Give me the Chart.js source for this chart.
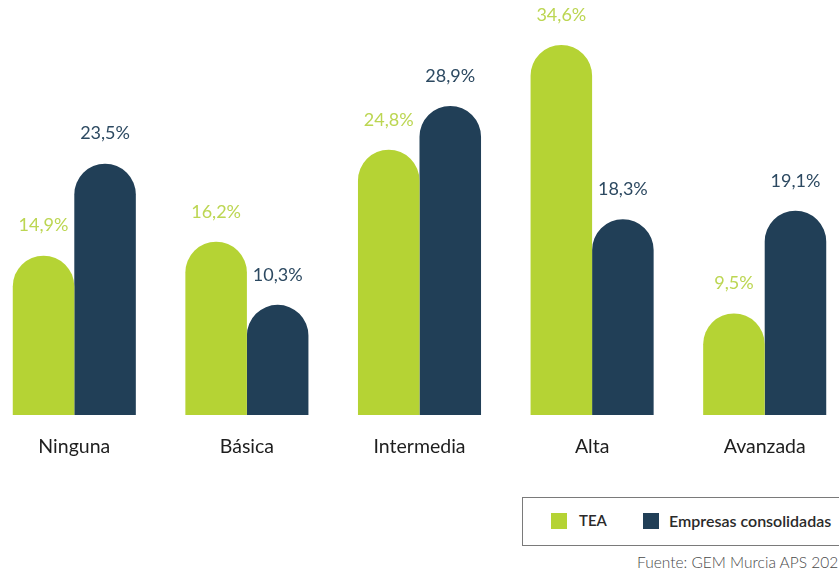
<!DOCTYPE html>
<html><head><meta charset="utf-8">
<script src="https://cdn.jsdelivr.net/npm/chart.js@4.4.1/dist/chart.umd.min.js"></script>
<style>
html,body{margin:0;padding:0;width:839px;height:571px;overflow:hidden;background:#fff;font-family:Lato,sans-serif;position:relative}
#wrap{position:absolute;left:-12px;top:0;width:863px;height:480px}
#legend{position:absolute;left:522px;top:497px;width:340px;height:49px;border:1px solid #7a7a7a;box-sizing:border-box}
.sq{position:absolute;top:15px;width:16px;height:16px}
.lt{position:absolute;top:13px;font-size:16px;font-weight:600;color:#2a2a2a;white-space:nowrap}
#src{position:absolute;left:637px;top:553px;font-size:15.5px;color:#4a4a4a;white-space:nowrap;font-weight:300}
</style></head>
<body>
<div id="wrap"><canvas id="c"></canvas></div>
<div id="legend">
  <div class="sq" style="left:28px;background:#b5d334"></div><div class="lt" style="left:56px;font-size:15px">TEA</div>
  <div class="sq" style="left:120px;background:#213f57"></div><div class="lt" style="left:146px">Empresas consolidadas</div>
</div>
<div id="src">Fuente: GEM Murcia APS 202</div>
<script>
const categories = ["Ninguna","Básica","Intermedia","Alta","Avanzada"];
const seriesNames = ["TEA","Empresas consolidadas"];
const teaValues = [14.9,16.2,24.8,34.6,9.5];
const consolidadasValues = [23.5,10.3,28.9,18.3,19.1];
const barColors = ["#b5d334","#213f57"];
const labelColors = ["#bcd652","#2c4961"];

const valueLabels = {
  id:'valueLabels',
  afterDatasetsDraw(chart){
    const ctx = chart.ctx;
    ctx.save();
    ctx.font = '18px Lato, sans-serif';
    ctx.textAlign = 'center';
    ctx.textBaseline = 'middle';
    chart.data.datasets.forEach((ds,i)=>{
      const meta = chart.getDatasetMeta(i);
      ctx.fillStyle = labelColors[i];
      meta.data.forEach((bar,j)=>{
        const txt = ds.data[j].toFixed(1).replace('.',',') + '%';
        ctx.fillText(txt, bar.x, bar.y - 30);
      });
    });
    ctx.restore();
  }
};

new Chart(document.getElementById('c'),{
  type:'bar',
  data:{
    labels:categories,
    datasets:[
      {label:seriesNames[0],data:teaValues,backgroundColor:barColors[0],borderRadius:{topLeft:40,topRight:40,bottomLeft:0,bottomRight:0},borderSkipped:false},
      {label:seriesNames[1],data:consolidadasValues,backgroundColor:barColors[1],borderRadius:{topLeft:40,topRight:40,bottomLeft:0,bottomRight:0},borderSkipped:false}
    ]
  },
  options:{
    responsive:true,maintainAspectRatio:false,animation:false,
    layout:{padding:{top:0,bottom:0,left:0,right:0}},
    datasets:{bar:{barPercentage:1,categoryPercentage:0.713}},
    plugins:{legend:{display:false},tooltip:{enabled:false}},
    scales:{
      x:{grid:{display:false,drawTicks:false},border:{display:false},
         afterFit:(s)=>{s.height=65;},
         ticks:{color:'#1e1e1e',font:{family:'Lato',size:19.5},padding:20}},
      y:{display:false,min:0,max:38.8}
    }
  },
  plugins:[valueLabels]
});
</script>
</body></html>
